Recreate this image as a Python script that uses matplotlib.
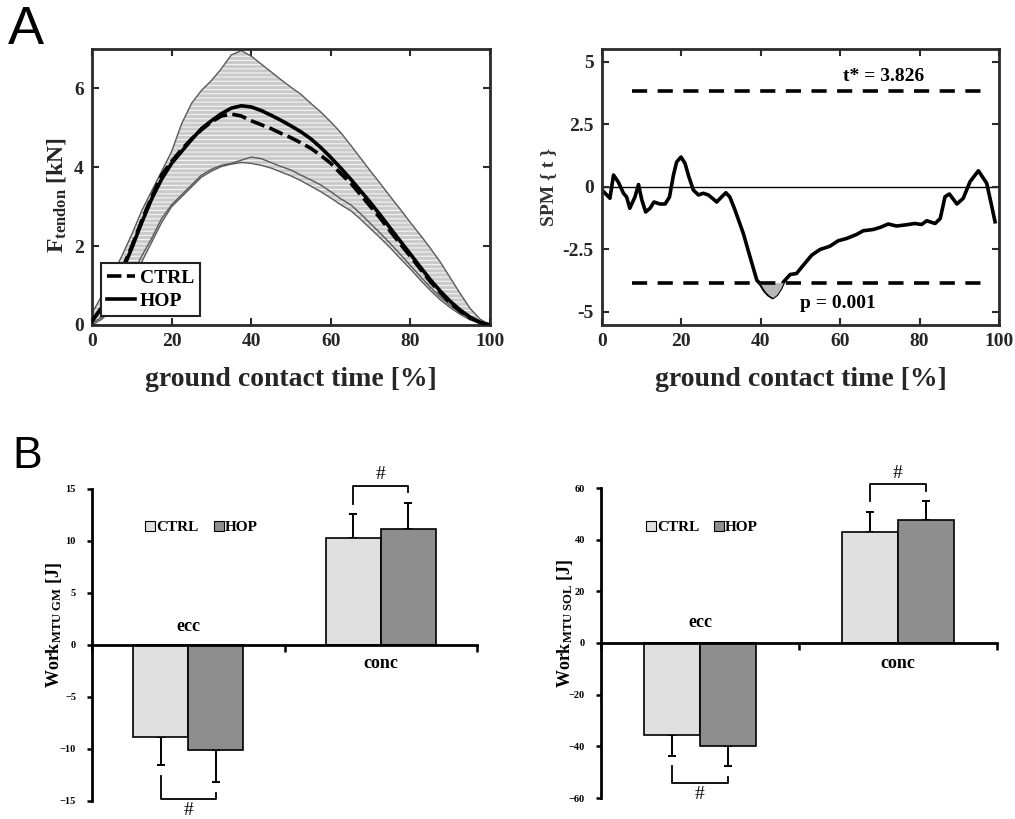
import numpy as np
import matplotlib
matplotlib.use("Agg")
import matplotlib.pyplot as plt
from matplotlib.lines import Line2D

plt.rcParams['font.family'] = ['Liberation Serif', 'DejaVu Serif']
plt.rcParams['font.weight'] = 'bold'
plt.rcParams['axes.labelweight'] = 'bold'
plt.rcParams['mathtext.fontset'] = 'custom'
plt.rcParams['mathtext.rm'] = 'Liberation Serif:bold'
plt.rcParams['mathtext.bf'] = 'Liberation Serif:bold'
plt.rcParams['mathtext.it'] = 'Liberation Serif:bold:italic'
plt.rcParams['hatch.linewidth'] = 0.8

# ---------------- Panel A (left): tendon force ----------------
t_pct = [0, 2.5, 5, 7.5, 10, 12.5, 15, 17.5, 20, 22.5, 25, 27.5, 30, 32.5, 35, 37.5,
         40, 42.5, 45, 47.5, 50, 52.5, 55, 57.5, 60, 62.5, 65, 67.5, 70, 72.5, 75,
         77.5, 80, 82.5, 85, 87.5, 90, 92.5, 95, 97.5, 100]
band_upper = [0.3, 0.75, 1.25, 1.75, 2.3, 2.9, 3.4, 3.9, 4.4, 5.1, 5.62, 5.95, 6.2, 6.5,
              6.85, 6.96, 6.82, 6.62, 6.42, 6.22, 6.03, 5.85, 5.62, 5.4, 5.15, 4.88,
              4.56, 4.23, 3.9, 3.58, 3.25, 2.93, 2.6, 2.28, 1.95, 1.6, 1.2, 0.8, 0.42,
              0.15, 0.0]
band_lower1 = [0.05, 0.2, 0.45, 0.8, 1.25, 1.75, 2.2, 2.7, 3.05, 3.3, 3.55, 3.8, 3.95,
               4.05, 4.1, 4.18, 4.26, 4.22, 4.12, 4.02, 3.93, 3.8, 3.68, 3.55, 3.38,
               3.2, 3.05, 2.82, 2.57, 2.32, 2.06, 1.79, 1.51, 1.23, 0.96, 0.71, 0.5,
               0.32, 0.17, 0.07, 0.0]
band_lower2 = [0.0, 0.15, 0.4, 0.75, 1.15, 1.6, 2.1, 2.6, 3.0, 3.25, 3.5, 3.75, 3.9,
               4.02, 4.08, 4.12, 4.1, 4.05, 3.98, 3.88, 3.78, 3.66, 3.52, 3.38, 3.22,
               3.05, 2.9, 2.68, 2.44, 2.2, 1.95, 1.68, 1.42, 1.14, 0.88, 0.64, 0.44,
               0.27, 0.13, 0.05, 0.0]
hop_mean = [0.1, 0.45, 0.85, 1.35, 1.95, 2.6, 3.2, 3.7, 4.1, 4.4, 4.7, 4.98, 5.18,
            5.36, 5.5, 5.56, 5.53, 5.44, 5.32, 5.19, 5.05, 4.9, 4.72, 4.5, 4.25, 3.98,
            3.7, 3.4, 3.1, 2.78, 2.45, 2.12, 1.8, 1.47, 1.15, 0.86, 0.6, 0.38, 0.2,
            0.07, 0.0]
ctrl_mean = [0.1, 0.45, 0.85, 1.4, 2.0, 2.65, 3.25, 3.8, 4.15, 4.45, 4.72, 4.95, 5.15,
             5.3, 5.35, 5.3, 5.18, 5.08, 4.98, 4.86, 4.75, 4.62, 4.48, 4.3, 4.1, 3.84,
             3.6, 3.3, 3.0, 2.7, 2.37, 2.05, 1.74, 1.42, 1.1, 0.82, 0.56, 0.35, 0.18,
             0.06, 0.0]

# ---------------- Panel A (right): SPM{t} ----------------
spm_x = [0, 2, 2.9, 4.1, 5.4, 6.2, 7, 8.3, 9.2, 10, 11, 12.1, 13.1, 14.6, 15.9, 17,
         18, 18.8, 19.9, 20.9, 21.9, 23, 24.3, 25.5, 26.8, 27.8, 28.9, 30.1, 31.2,
         32.2, 33.5, 35.6, 37.3, 39, 40, 41, 42, 43, 44, 45, 45.7, 47.4, 49, 50.7,
         52.8, 54.9, 57.4, 59.5, 61.6, 64.1, 65.8, 68.3, 70, 72.1, 74.2, 76.3, 78.8,
         80.5, 81.8, 83.9, 85.2, 86.4, 87.5, 89.4, 91, 92.7, 94.8, 96.9, 98.2, 99]
spm_t = [-0.12, -0.45, 0.48, 0.2, -0.25, -0.4, -0.85, -0.4, 0.1, -0.5, -1.0, -0.85,
         -0.6, -0.68, -0.68, -0.4, 0.48, 1.0, 1.2, 0.95, 0.4, -0.12, -0.32, -0.25,
         -0.32, -0.45, -0.6, -0.4, -0.23, -0.4, -0.92, -1.86, -2.8, -3.73, -3.9,
         -4.15, -4.32, -4.42, -4.3, -4.05, -3.8, -3.5, -3.46, -3.13, -2.73, -2.5,
         -2.37, -2.15, -2.06, -1.9, -1.75, -1.7, -1.62, -1.48, -1.56, -1.52, -1.46,
         -1.5, -1.35, -1.46, -1.26, -0.39, -0.28, -0.68, -0.45, 0.21, 0.65, 0.15,
         -0.79, -1.39]
t_crit = 3.826
thr_x = [7.5, 95.6]

# ---------------- Panel B: work bars ----------------
phases = ['ecc', 'conc']
gm_ctrl = [-8.85, 10.25]
gm_ctrl_sd = [2.7, 2.3]
gm_hop = [-10.1, 11.15]
gm_hop_sd = [3.1, 2.5]
sol_ctrl = [-35.8, 42.8]
sol_ctrl_sd = [7.8, 7.8]
sol_hop = [-39.7, 47.8]
sol_hop_sd = [8.0, 7.0]

C_CTRL = '#e0e0e0'
C_HOP = '#8e8e8e'
DARK = '#262626'

fig = plt.figure(figsize=(10.15, 8.19), dpi=100)

# ---- A left
ax1 = fig.add_axes([92/1015, 1-325/819, 398/1015, 276/819])
ax1.fill_between(t_pct, band_lower2, band_upper, facecolor='#cacaca',
                 edgecolor='#f4f4f4', hatch='----', linewidth=0, zorder=1)
for arr in (band_upper, band_lower1, band_lower2):
    ax1.plot(t_pct, arr, color='#5a5a5a', lw=1.0, zorder=2)
ax1.plot(t_pct, ctrl_mean, color='black', lw=2.6, dashes=(4, 1.5), zorder=3, label='CTRL')
ax1.plot(t_pct, hop_mean, color='black', lw=2.6, zorder=4, label='HOP')
ax1.set_xlim(0, 100)
ax1.set_ylim(0, 7)
ax1.set_xticks([0, 20, 40, 60, 80, 100])
ax1.set_yticks([0, 2, 4, 6])
ax1.set_xlabel('ground contact time [%]', fontsize=20, color=DARK, labelpad=12)
ax1.set_ylabel(r'F$_{\rm tendon}$ [kN]', fontsize=17, color=DARK)
ax1.yaxis.set_label_coords(-0.06, 0.47)
leg = ax1.legend(loc='lower left', bbox_to_anchor=(0.022, 0.033), fontsize=14,
                 handlelength=1.45, handletextpad=0.25, borderpad=0.3,
                 labelspacing=0.3, fancybox=False, framealpha=1, edgecolor='#222222',
                 borderaxespad=0)
leg.get_frame().set_linewidth(1.5)

# ---- A right
ax2 = fig.add_axes([602/1015, 1-325/819, 397/1015, 276/819])
ax2.axhline(0, color='black', lw=1.0, zorder=1)
ax2.plot(spm_x, spm_t, color='black', lw=2.6, zorder=2)
spm_xa = np.array(spm_x)
spm_ta = np.array(spm_t)
ax2.fill_between(spm_xa, spm_ta, -t_crit, where=spm_ta < -t_crit + 0.05,
                 color='#b8b8b8', lw=0, zorder=3, interpolate=True)
ax2.plot(thr_x, [t_crit, t_crit], color='black', lw=2.6, dashes=(4.2, 2.9), zorder=4)
ax2.plot(thr_x, [-t_crit, -t_crit], color='black', lw=2.6, dashes=(4.2, 2.9), zorder=4)
ax2.text(71, 4.42, 't* = %.3f' % t_crit, fontsize=14, ha='center', va='center', color='black')
ax2.text(59.5, -4.68, 'p = 0.001', fontsize=14, ha='center', va='center', color='black')
ax2.set_xlim(0, 100)
ax2.set_ylim(-5.52, 5.52)
ax2.set_xticks([0, 20, 40, 60, 80, 100])
ax2.set_yticks([-5, -2.5, 0, 2.5, 5])
ax2.set_yticklabels(['-5', '-2.5', '0', '2.5', '5'])
ax2.set_xlabel('ground contact time [%]', fontsize=20, color=DARK, labelpad=12)
ax2.set_ylabel('SPM { t }', fontsize=14, color='#333333', labelpad=4)

for ax in (ax1, ax2):
    for s in ax.spines.values():
        s.set_linewidth(2.0)
        s.set_color('#2a2a2a')
    ax.tick_params(direction='in', top=True, right=True, length=5, width=1.5,
                   labelsize=14, colors='#2a2a2a', labelcolor=DARK, pad=6)
    for lab in ax.get_xticklabels() + ax.get_yticklabels():
        lab.set_fontweight('bold')


# ---- B panels
def bar_panel(rect, ctrl, ctrl_sd, hop, hop_sd, ylim, yticks, ylabel, leg_xy,
              ecc_y, conc_y, ylab_x):
    ax = fig.add_axes(rect)
    centers = np.arange(len(phases)) + 0.5
    w = 0.285
    xc = centers - w / 2
    xh = centers + w / 2
    ax.bar(xc, ctrl, w, color=C_CTRL, edgecolor='black', lw=1.2, zorder=2)
    ax.bar(xh, hop, w, color=C_HOP, edgecolor='black', lw=1.2, zorder=2)
    span = ylim[1] - ylim[0]
    for xs, m, sd in ((xc, ctrl, ctrl_sd), (xh, hop, hop_sd)):
        m = np.array(m)
        sd = np.array(sd)
        lower = np.where(m < 0, sd, 0)
        upper = np.where(m > 0, sd, 0)
        ax.errorbar(xs, m, yerr=[lower, upper], fmt='none', ecolor='black',
                    elinewidth=1.4, capsize=3.2, capthick=1.4, zorder=1)
    # significance brackets
    gap = 0.035 * span
    for i in range(len(phases)):
        s = 1 if ctrl[i] > 0 else -1
        e1 = ctrl[i] + s * ctrl_sd[i] + s * gap
        e2 = hop[i] + s * hop_sd[i] + s * gap
        barlvl = (max(e1, e2) if s > 0 else min(e1, e2)) + s * 0.02 * span
        ax.plot([xc[i], xc[i], xh[i], xh[i]], [e1, barlvl, barlvl, e2],
                color='black', lw=1.3, clip_on=False, zorder=3)
        ax.text(centers[i], barlvl + s * 0.008 * span, '#', fontsize=14,
                fontweight='normal', ha='center',
                va='bottom' if s > 0 else 'top', clip_on=False)
    ax.text(centers[0], ecc_y, phases[0], fontsize=13, ha='center', va='center')
    ax.text(centers[1], conc_y, phases[1], fontsize=13, ha='center', va='center')
    ax.set_xlim(0, 2)
    ax.set_ylim(*ylim)
    ax.set_yticks(yticks)
    ax.set_xticks([0, 1, 2])
    ax.set_xticklabels([])
    ax.spines['top'].set_visible(False)
    ax.spines['right'].set_visible(False)
    ax.spines['bottom'].set_position(('data', 0))
    ax.spines['bottom'].set_linewidth(2.0)
    ax.spines['left'].set_linewidth(2.0)
    ax.spines['bottom'].set_zorder(4)
    ax.tick_params(axis='y', direction='out', length=3.5, width=1.8, labelsize=7.5, pad=8)
    ax.tick_params(axis='x', direction='out', length=5, width=1.8)
    for lab in ax.get_yticklabels():
        lab.set_fontweight('bold')
    ax.set_ylabel(ylabel, fontsize=13)
    ax.yaxis.set_label_coords(ylab_x, 0.565)
    handles = [Line2D([], [], ls='none', marker='s', markersize=6.5,
                      markerfacecolor=C_CTRL, markeredgecolor='black', markeredgewidth=0.8),
               Line2D([], [], ls='none', marker='s', markersize=6.5,
                      markerfacecolor=C_HOP, markeredgecolor='black', markeredgewidth=0.8)]
    ax.legend(handles, ['CTRL', 'HOP'], loc='center', bbox_to_anchor=leg_xy, ncol=2,
              frameon=False, fontsize=11, handlelength=0.6, handletextpad=0.1,
              columnspacing=1.0, borderpad=0)
    return ax


bar_panel([92/1015, 1-801/819, 385/1015, 312/819], gm_ctrl, gm_ctrl_sd, gm_hop, gm_hop_sd,
          (-15, 15), [-15, -10, -5, 0, 5, 10, 15], r'Work$_{\rm MTU\ GM}$ [J]',
          (0.285, 0.878), 1.8, -1.75, -0.072)
bar_panel([601/1015, 1-798/819, 396/1015, 310/819], sol_ctrl, sol_ctrl_sd, sol_hop, sol_hop_sd,
          (-60, 60), [-60, -40, -20, 0, 20, 40, 60], r'Work$_{\rm MTU\ SOL}$ [J]',
          (0.255, 0.874), 7.8, -7.8, -0.065)

fig.text(8/1015, 1-5/819, 'A', fontsize=39, family='Liberation Sans', fontweight='normal',
         ha='left', va='top')
fig.text(12/1015, 1-436/819, 'B', fontsize=32, family='Liberation Sans', fontweight='normal',
         ha='left', va='top')

fig.savefig('out.png', dpi=100)
